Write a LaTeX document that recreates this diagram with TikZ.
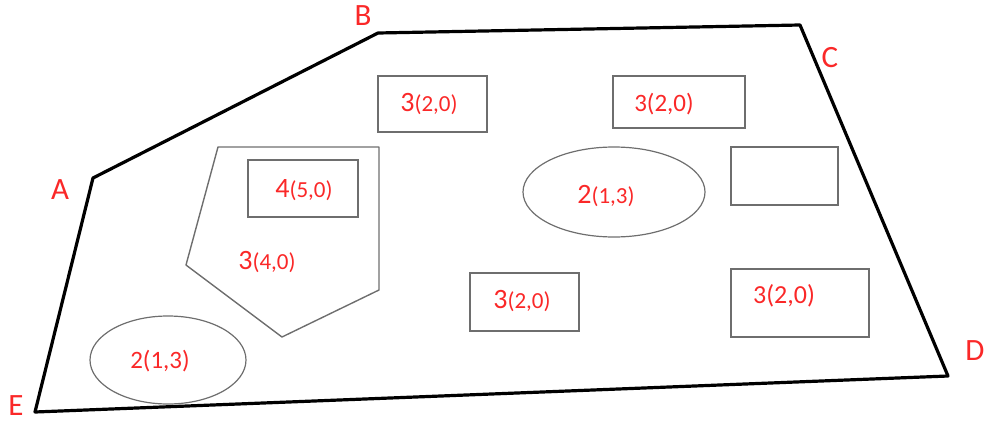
\documentclass[tikz,border=0pt]{standalone}
\usepackage{fontspec}
\setmainfont{Carlito}
\usepackage{tikz}
\usetikzlibrary{positioning,shapes.geometric}
\definecolor{redi}{RGB}{250,40,40}
\definecolor{grayi}{RGB}{110,110,110}
\tikzset{
          corner/.style={text=redi,font=\fontsize{15.5}{16}\selectfont,inner sep=0pt},
          cell/.style={rectangle,draw=grayi,line width=0.7pt,inner sep=0pt},
          blob/.style={ellipse,draw=grayi,line width=0.6pt,inner sep=0pt},
          val/.style={text=redi,inner sep=0pt},
          border/.style={line width=1.6pt,line join=round}
        }
% big digit, small bracket
\newcommand\Val[2]{%
          {\fontsize{14}{14}\selectfont #1}{\fontsize{11.5}{12}\selectfont #2}}
\newcommand\Flat[1]{%
          {\fontsize{12.5}{13}\selectfont #1}}
\begin{document}
\begin{tikzpicture}[x=0.5pt,y=-0.5pt]
            \useasboundingbox (0,0) rectangle (984,423);

            % outer field
            \coordinate (A) at (93,178);
            \coordinate (B) at (378,33);
            \coordinate (C) at (800,25);
            \coordinate (D) at (948,376);
            \coordinate (E) at (35,412);
            \draw[border] (A) -- (B) -- (C) -- (D) -- (E) -- cycle;

            \node[corner] (lA) at (60,190) {A};
            \node[corner] (lB) at (363,16) {B};
            \node[corner] (lC) at (830,58) {C};
            \node[corner] (lD) at (975,351) {D};
            \node[corner] (lE) at (16,406) {E};

            % pentagon
            \draw[grayi,line width=0.7pt,line join=round]
              (218,147) -- (379,147) -- (379,290) -- (282,337) -- (186,265) -- cycle;
            \node[val] (v34) at (267,262) {\Val{3}{(4,0)}};

            % boxes
            \node[cell,minimum width=54.5pt,minimum height=28pt] (b1) at (432.5,104) {};
            \node[val] (v1) at (429,104) {\Val{3}{(2,0)}};
            \node[cell,minimum width=66pt,minimum height=26pt] (b2) at (679,102) {};
            \node[val] (v2) at (664,104) {\Flat{3(2,0)}};
            \node[cell,minimum width=53.5pt,minimum height=29pt] (b3) at (784.5,176) {};
            \node[cell,minimum width=55pt,minimum height=28.5pt] (b4) at (303,188.5) {};
            \node[val] (v4) at (304,190) {\Val{4}{(5,0)}};
            \node[cell,minimum width=54.5pt,minimum height=29pt] (b5) at (524.5,302) {};
            \node[val] (v5) at (522,301) {\Val{3}{(2,0)}};
            \node[cell,minimum width=69pt,minimum height=34pt] (b6) at (800,303) {};
            \node[val] (v6) at (784,296) {\Flat{\fontsize{13}{13}\selectfont 3(2,0)}};

            % ellipses
            \node[blob,minimum width=91pt,minimum height=45pt] (e1) at (614,192) {};
            \node[val] (ve1) at (606,196) {\Val{2}{(1,3)}};
            \node[blob,minimum width=78pt,minimum height=44pt] (e2) at (168,360) {};
            \node[val] (ve2) at (160,361) {\Flat{2(1,3)}};

          \end{tikzpicture}
\end{document}
